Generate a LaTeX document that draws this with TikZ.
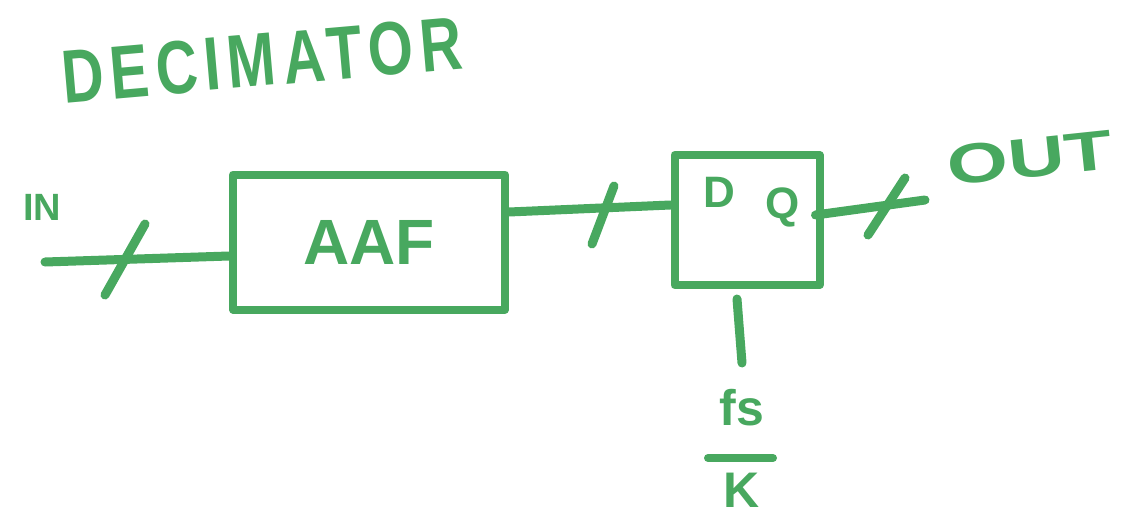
\documentclass[tikz,border=0pt]{standalone}
\usepackage{fontspec}
\setmainfont{Liberation Sans}
\usetikzlibrary{calc}
\definecolor{marker}{RGB}{72,168,95}
\begin{document}
\begin{tikzpicture}[x=1pt,y=-1pt,line cap=round,line join=round,
  wire/.style={draw=marker,line width=9pt},
  blk/.style={draw=marker,line width=8pt,inner sep=0pt,text=marker},
  lbl/.style={text=marker,inner sep=0pt}]
\useasboundingbox[fill=white] (0,0) rectangle (1131,519);
% title
\node[lbl,font=\bfseries\fontsize{58}{58}\selectfont\addfontfeature{LetterSpace=12},rotate=5,yscale=1.3] (title) at (262,60) {DECIMATOR};
% blocks
\node[blk,minimum width=272pt,minimum height=135pt,font=\bfseries\fontsize{64}{64}\selectfont] (aaf) at (369,242) {AAF};
\node[blk,minimum width=145pt,minimum height=130pt] (dq) at (747,220) {};
\node[lbl,font=\bfseries\fontsize{44}{44}\selectfont] (d) at (719,192) {D};
\node[lbl,font=\bfseries\fontsize{44}{44}\selectfont] (q) at (783,207) {Q};
% input
\node[lbl,font=\bfseries\fontsize{38}{38}\selectfont] (in) at (42,207) {IN};
\coordinate (src) at (45,262);
\draw[wire] (src) -- ($(aaf.west)+(0,14)$);
\coordinate (s1a) at (105,295); \coordinate (s1b) at (145,224);
\draw[wire] (s1a) -- (s1b);
% AAF to DQ
\draw[wire] ($(aaf.east)+(0,-30)$) -- ($(dq.west)+(0,-15)$);
\coordinate (s2a) at (592,244); \coordinate (s2b) at (614,186);
\draw[wire] (s2a) -- (s2b);
% output
\coordinate (dst) at (925,200);
\draw[wire] ($(dq.east)+(-8,-5)$) -- (dst);
\coordinate (s3a) at (868,235); \coordinate (s3b) at (905,178);
\draw[wire] (s3a) -- (s3b);
\node[lbl,font=\bfseries\fontsize{56}{56}\selectfont,rotate=6,xscale=1.4] (out) at (1030,158) {OUT};
% clock
\coordinate (clk) at (742,363);
\draw[wire] ($(dq.south)+(-10,10)$) -- (clk);
\node[lbl,font=\bfseries\fontsize{50}{50}\selectfont] (fs) at (742,408) {fs};
\coordinate (barL) at (708,458); \coordinate (barR) at (773,458);
\draw[wire,line width=8pt] (barL) -- (barR);
\node[lbl,font=\bfseries\fontsize{50}{50}\selectfont] (k) at (742,490) {K};
\end{tikzpicture}
\end{document}
